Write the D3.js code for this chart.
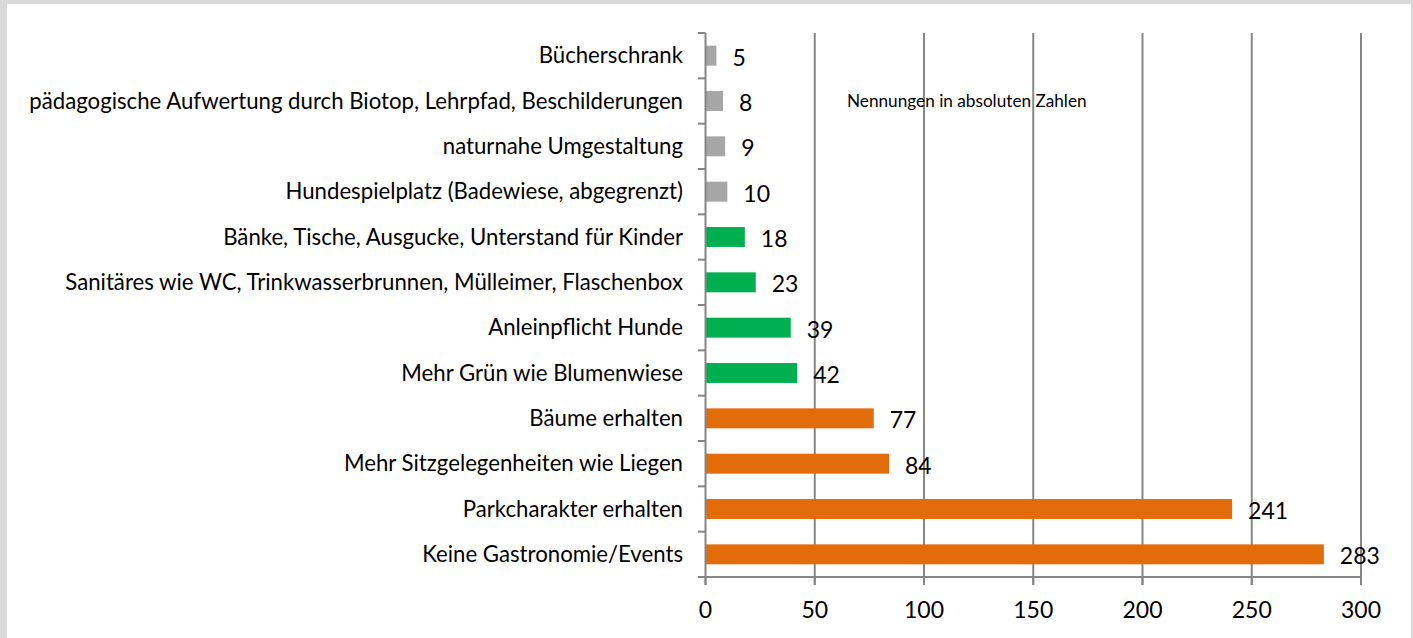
<!DOCTYPE html>
<html><head><meta charset="utf-8">
<script src="https://cdn.jsdelivr.net/npm/d3@7"></script>
<style>
html,body{margin:0;padding:0;background:#d9d9d9;}
svg{display:block;}
</style></head>
<body>
<svg id="chart" width="1413" height="638"></svg>
<script>
const categories = [
  "Bücherschrank",
  "pädagogische Aufwertung durch Biotop, Lehrpfad, Beschilderungen",
  "naturnahe Umgestaltung",
  "Hundespielplatz (Badewiese, abgegrenzt)",
  "Bänke, Tische, Ausgucke, Unterstand für Kinder",
  "Sanitäres wie WC, Trinkwasserbrunnen, Mülleimer, Flaschenbox",
  "Anleinpflicht Hunde",
  "Mehr Grün wie Blumenwiese",
  "Bäume erhalten",
  "Mehr Sitzgelegenheiten wie Liegen",
  "Parkcharakter erhalten",
  "Keine Gastronomie/Events"
];
const values = [5, 8, 9, 10, 18, 23, 39, 42, 77, 84, 241, 283];
const groups = ["grau","grau","grau","grau","gruen","gruen","gruen","gruen","orange","orange","orange","orange"];
const xTicks = [0, 50, 100, 150, 200, 250, 300];
const note = "Nennungen in absoluten Zahlen";

const colors = {grau:"#a6a6a6", gruen:"#00b050", orange:"#e36c0a"};
const font = "Lato, 'Open Sans', sans-serif";

const svg = d3.select("#chart");
svg.append("rect").attr("x",7).attr("y",4).attr("width",1404).attr("height",634).attr("fill","#fff");

const x = d3.scaleLinear().domain([0,300]).range([705.5,1361]);
const y = d3.scaleBand().domain(categories).range([33,577]).paddingInner(0.56).paddingOuter(0.28);
const gridColor = "#868686";

// gridlines
svg.append("g").selectAll("line").data(xTicks.slice(1)).join("line")
  .attr("x1",d=>x(d)).attr("x2",d=>x(d)).attr("y1",33).attr("y2",585)
  .attr("stroke",gridColor).attr("stroke-width",2);

// bars
svg.append("g").selectAll("rect").data(values).join("rect")
  .attr("x",x(0)).attr("y",(d,i)=>y(categories[i]))
  .attr("width",d=>x(d)-x(0)).attr("height",y.bandwidth())
  .attr("fill",(d,i)=>colors[groups[i]]);

// y axis
const step = (577-33)/categories.length;
const yBound = d3.range(categories.length+1).map(i=>33+i*step);
svg.append("g").selectAll("line").data(yBound).join("line")
  .attr("x1",698).attr("x2",x(0)).attr("y1",d=>d).attr("y2",d=>d)
  .attr("stroke",gridColor).attr("stroke-width",2);
svg.append("line").attr("x1",x(0)).attr("x2",x(0)).attr("y1",33).attr("y2",585)
  .attr("stroke",gridColor).attr("stroke-width",2);
// x axis
svg.append("line").attr("x1",698).attr("x2",x(300)).attr("y1",577).attr("y2",577)
  .attr("stroke",gridColor).attr("stroke-width",2);
svg.append("g").selectAll("line").data(xTicks).join("line")
  .attr("x1",d=>x(d)).attr("x2",d=>x(d)).attr("y1",577).attr("y2",585)
  .attr("stroke",gridColor).attr("stroke-width",2);
svg.append("g").selectAll("text").data(xTicks).join("text")
  .attr("x",d=>x(d)).attr("y",618).attr("text-anchor","middle")
  .attr("font-family",font).attr("font-size",23).attr("fill","#000").text(d=>d);

// category labels
svg.append("g").selectAll("text").data(categories).join("text")
  .attr("x",683).attr("y",d=>y(d)+y.bandwidth()/2).attr("dy","0.35em")
  .attr("text-anchor","end").attr("font-family",font).attr("font-size",22.2)
  .attr("fill","#000").text(d=>d);

// value labels
svg.append("g").selectAll("text").data(values).join("text")
  .attr("x",d=>x(d)+16).attr("y",(d,i)=>y(categories[i])+y.bandwidth()/2+2).attr("dy","0.35em")
  .attr("font-family",font).attr("font-size",23).attr("fill","#000").text(d=>d);

// note
svg.append("text").attr("x",847).attr("y",107).attr("font-family",font)
  .attr("font-size",17.2).attr("fill","#000").text(note);
</script>
</body></html>
